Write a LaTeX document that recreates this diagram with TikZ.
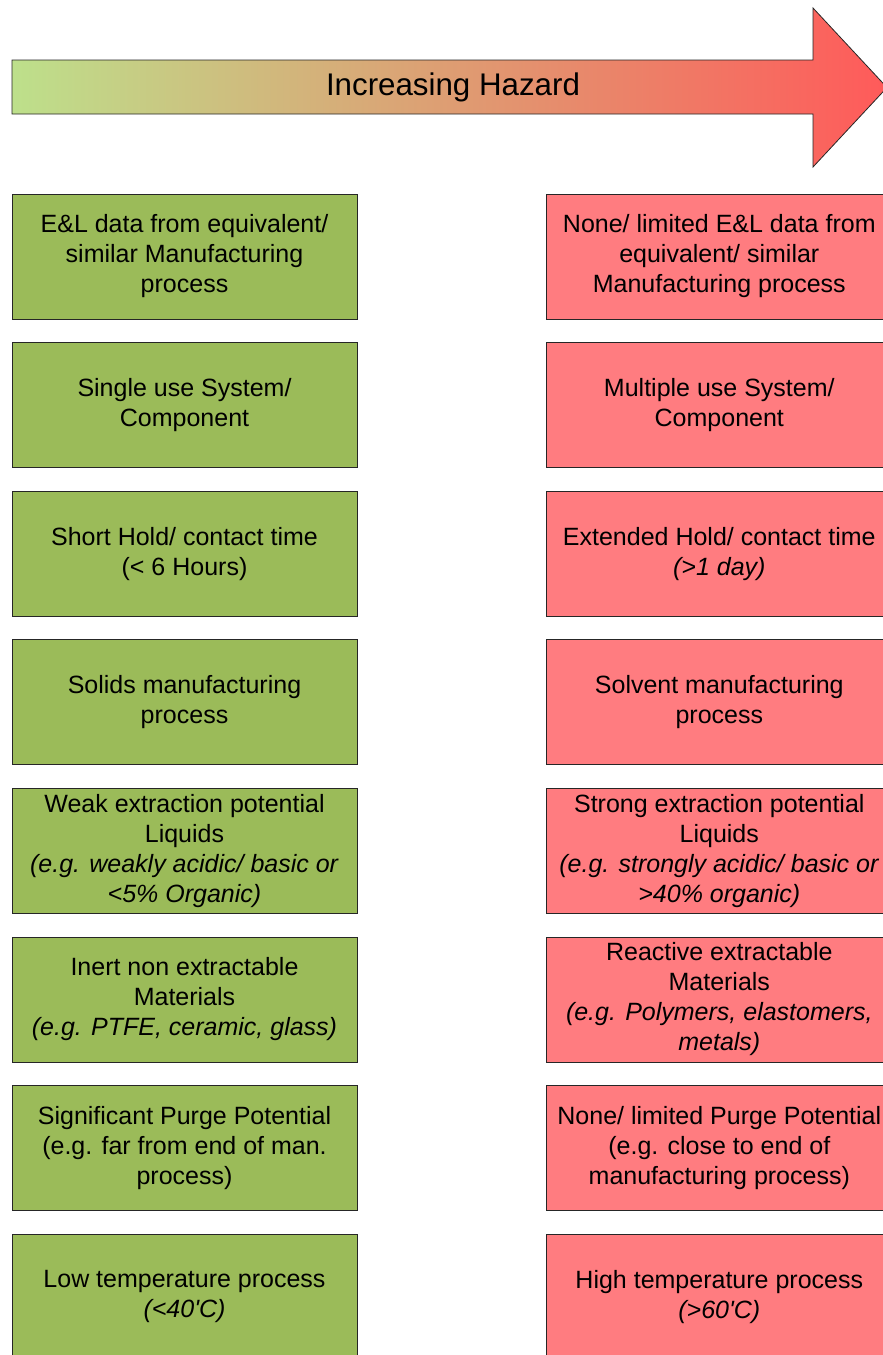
\documentclass[tikz,border=0pt]{standalone}
\usepackage{fontspec}
\setmainfont{Liberation Sans}
\usetikzlibrary{positioning}
\definecolor{hzgreen}{RGB}{189, 224, 139}
\definecolor{hztan}{RGB}{213, 174, 122}
\definecolor{hzred}{RGB}{255, 90, 90}
\definecolor{lowrisk}{RGB}{155, 187, 89}
\definecolor{highrisk}{RGB}{255, 124, 128}
\colorlet{boxline}{black!85}

\begin{document}
\begin{tikzpicture}[x=1pt, y=-1pt,
    node distance=22.8pt and 189pt,
    riskbox/.style={draw=boxline, line width=0.8pt, minimum width=345pt, minimum height=125pt,
        inner sep=0pt, align=center, font=\fontsize{25}{30}\selectfont},
    lowbox/.style={riskbox, fill=lowrisk},
    highbox/.style={riskbox, fill=highrisk}]

    \useasboundingbox (0,0) rectangle (883,1355);
    \clip (0,0) rectangle (883,1355);

    % hazard arrow
    \shadedraw[left color=hzgreen, middle color=hztan, right color=hzred, draw=boxline, line width=0.8pt]
        (12,60) -- (813,60) -- (813,8) -- (887,87.5) -- (813,167) -- (813,114) -- (12,114) -- cycle;
    \node[font=\fontsize{31.3}{36}\selectfont] (hazard) at (453,87) {Increasing Hazard};

	% low hazard column
	\node[lowbox] (low1) at (184.5,256.5) {E\&L data from equivalent/\\similar Manufacturing\\process};
	\node[lowbox, below=of low1] (low2) {Single use System/\\Component};
	\node[lowbox, below=of low2] (low3) {Short Hold/ contact time\\(< 6 Hours)};
	\node[lowbox, below=of low3] (low4) {Solids manufacturing\\process};
	\node[lowbox, below=of low4] (low5) {Weak extraction potential\\Liquids\\\textit{(e.g. weakly acidic/ basic or}\\\textit{<5\% Organic)}};
	\node[lowbox, below=of low5] (low6) {Inert non extractable\\Materials\\\textit{(e.g. PTFE, ceramic, glass)}};
	\node[lowbox, below=of low6] (low7) {Significant Purge Potential\\(e.g. far from end of man.\\process)};
	\node[lowbox, below=of low7] (low8) {Low temperature process\\\textit{(<40\textquotesingle C)}};

	% high hazard column
	\node[highbox, right=of low1] (high1) {None/ limited E\&L data from\\equivalent/ similar\\Manufacturing process};
	\node[highbox, right=of low2] (high2) {Multiple use System/\\Component};
	\node[highbox, right=of low3] (high3) {Extended Hold/ contact time\\\textit{(>1 day)}};
	\node[highbox, right=of low4] (high4) {Solvent manufacturing\\process};
	\node[highbox, right=of low5] (high5) {Strong extraction potential\\Liquids\\\textit{(e.g. strongly acidic/ basic or}\\\textit{>40\% organic)}};
	\node[highbox, right=of low6] (high6) {Reactive extractable\\Materials\\\textit{(e.g. Polymers, elastomers,}\\\textit{metals)}};
	\node[highbox, right=of low7] (high7) {None/ limited Purge Potential\\(e.g. close to end of\\manufacturing process)};
	\node[highbox, right=of low8] (high8) {High temperature process\\\textit{(>60\textquotesingle C)}};

\end{tikzpicture}
\end{document}
